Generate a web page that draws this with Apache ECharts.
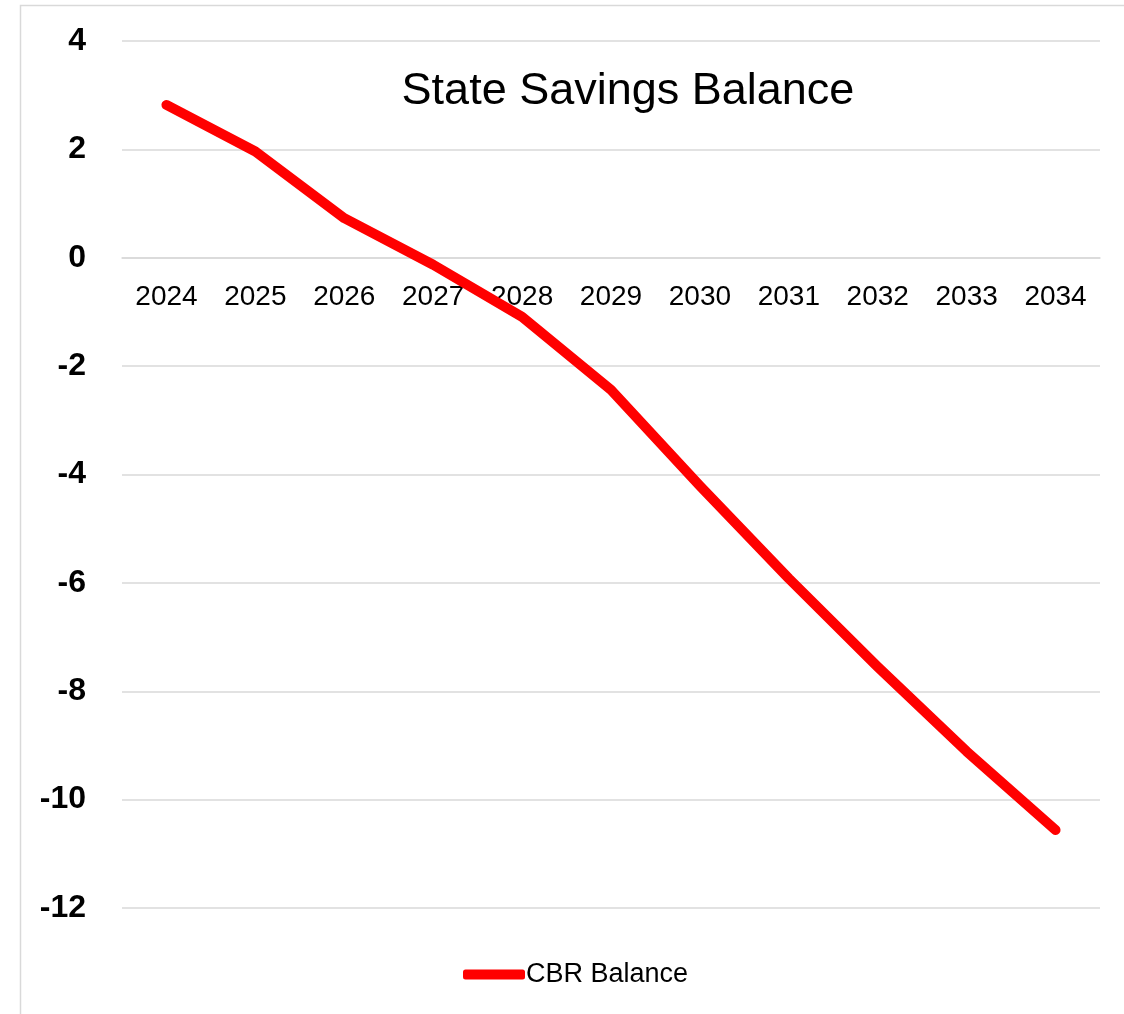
<!DOCTYPE html>
<html>
<head>
<meta charset="utf-8">
<script src="https://cdn.jsdelivr.net/npm/echarts@6/dist/echarts.min.js"></script>
<style>
html,body{margin:0;padding:0;background:#fff;}
#chart{width:1124px;height:1014px;}
</style>
</head>
<body>
<div id="chart"></div>
<script>
var categories = ['2024','2025','2026','2027','2028','2029','2030','2031','2032','2033','2034'];
var cbrBalance = [2.82, 1.96, 0.73, -0.13, -1.09, -2.44, -4.21, -5.92, -7.55, -9.11, -10.56];
var seriesName = 'CBR Balance';
var titleText = 'State Savings Balance';
var yMin = -12, yMax = 4, yStep = 2;

var gridTop = 41, gridBottom = 106, chartH = 1014;
var plotH = chartH - gridTop - gridBottom;
var zeroOffset = -plotH * (0 - yMin) / (yMax - yMin);

var chart = echarts.init(document.getElementById('chart'));
chart.setOption({
  animation: false,
  backgroundColor: '#ffffff',
  graphic: [{
    type: 'rect',
    shape: { x: 20.5, y: 5.5, width: 1200, height: 1200 },
    style: { fill: 'none', stroke: '#d9d9d9', lineWidth: 1.5 },
    silent: true
  }],
  title: {
    text: titleText,
    left: 623,
    top: 64,
    textAlign: 'center',
    textStyle: { fontFamily: 'Liberation Sans', fontSize: 45, fontWeight: 'normal', color: '#000' }
  },
  legend: {
    data: [seriesName],
    left: 458,
    top: 956,
    icon: 'roundRect',
    itemWidth: 62,
    itemHeight: 10,
    textStyle: { fontFamily: 'Liberation Sans', fontSize: 27, color: '#000', padding: [0,0,0,-4] }
  },
  grid: { left: 122, right: 24, top: gridTop, bottom: gridBottom, containLabel: false },
  xAxis: {
    type: 'category',
    data: categories,
    boundaryGap: true,
    offset: zeroOffset,
    axisLine: { onZero: false, lineStyle: { color: '#d9d9d9', width: 1.5 } },
    axisTick: { show: false },
    axisLabel: { margin: 26, fontFamily: 'Liberation Sans', fontSize: 28, color: '#000' },
    splitLine: { show: false }
  },
  yAxis: {
    type: 'value',
    min: yMin,
    max: yMax,
    interval: yStep,
    axisLine: { show: false },
    axisTick: { show: false },
    axisLabel: { margin: 36, fontFamily: 'Liberation Sans', fontSize: 32, fontWeight: 'bold', color: '#000' },
    splitLine: { lineStyle: { color: '#d9d9d9', width: 1.5 } }
  },
  series: [{
    name: seriesName,
    type: 'line',
    data: cbrBalance,
    showSymbol: false,
    symbol: 'none',
    itemStyle: { color: '#ff0000' },
    lineStyle: { color: '#ff0000', width: 10, cap: 'round', join: 'round' }
  }]
});
</script>
</body>
</html>
